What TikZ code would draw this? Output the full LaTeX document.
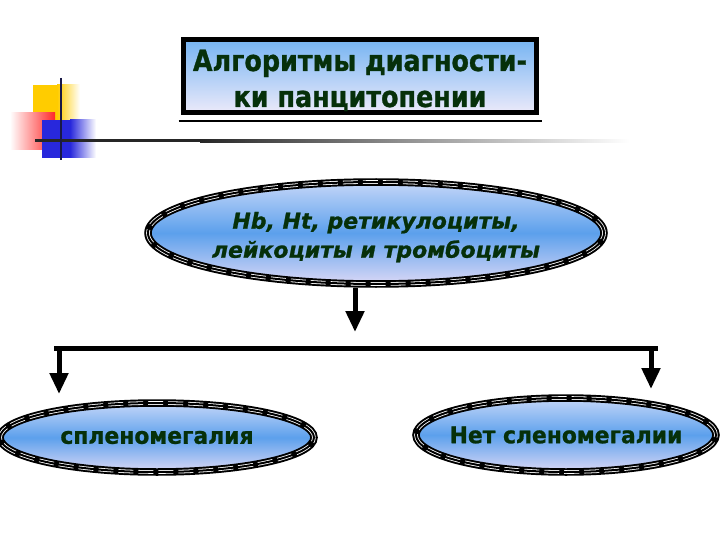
\documentclass[tikz,border=0pt]{standalone}
\usepackage{fontspec}
\setmainfont{DejaVu Sans}
\newfontfamily\slidefont[FakeStretch=0.87,FakeBold=1]{DejaVu Sans}
\newfontfamily\ovalfont[FakeStretch=0.95,FakeBold=1]{DejaVu Sans}
\newfontfamily\paramfont[FakeBold=1]{DejaVu Sans}
\usetikzlibrary{arrows.meta,shapes.geometric}
\definecolor{txtgreen}{RGB}{6,48,10}
\definecolor{ttop}{RGB}{118,180,242}
\definecolor{tbot}{RGB}{236,234,250}
\definecolor{etop}{RGB}{196,214,248}
\definecolor{emid}{RGB}{92,160,236}
\definecolor{ebot}{RGB}{218,216,246}
\definecolor{decyel}{RGB}{255,204,0}
\definecolor{decred}{RGB}{255,40,40}
\definecolor{decblue}{RGB}{40,40,220}
\definecolor{decnavy}{RGB}{25,25,70}
\tikzset{
  ovalbox/.style={ellipse, inner xsep=-80pt, inner ysep=-20pt, top color=etop, bottom color=ebot, middle color=emid,
    draw=black, line width=7.5pt, text=txtgreen, align=center},
  ringdash/.style={draw=white, line width=3.6pt, dash pattern=on 15pt off 5pt},
  ringthin/.style={draw=black, line width=2pt},
  bigarrow/.style={line width=5pt, -{Triangle[width=18pt,length=21pt]}},
  barline/.style={line width=5pt}
}
\newcommand{\ovalring}[3]{%
  \draw[ringdash] (#1.center) ellipse [x radius=#2, y radius=#3];
  \draw[ringthin] (#1.center) ellipse [x radius=#2, y radius=#3];}
\begin{document}
\begin{tikzpicture}[x=1pt,y=-1pt]
\useasboundingbox[fill=white] (0,0) rectangle (720,540);
% decoration
\fill[decyel] (33,85) rectangle (57,126);
\shade[left color=decyel, right color=white] (57,85) rectangle (80,126);
\shade[left color=white, right color=decred] (10,113) rectangle (55,150);
\fill[decblue] (42,120) rectangle (70,158);
\shade[left color=decblue, right color=white] (70,120) rectangle (96,158);
\fill[black!85] (35,139.5) rectangle (200,142.5);
\shade[left color=black!85, right color=black!40] (200,139.5) rectangle (420,142.5);
\shade[left color=black!40, right color=white] (420,139.5) rectangle (630,142.5);
\draw[decnavy, line width=2.5pt] (61,78) -- (61,160);
% title
\node[rectangle, minimum width=353pt, minimum height=73.5pt, inner sep=0pt,
  top color=ttop, bottom color=tbot, draw=black, line width=5pt,
  text=txtgreen, align=center, font=\slidefont\bfseries\fontsize{29.2}{36}\selectfont]
  (title) at (360,76.25) {\rule{0pt}{29.5pt}Алгоритмы диагности-\\ки панцитопении};
\draw[line width=1.3pt] ([xshift=-2.5pt,yshift=-5.5pt]title.south west) -- ([xshift=2.5pt,yshift=-5.5pt]title.south east);
% ellipses
\node[ovalbox, minimum width=456pt, minimum height=102pt,
  font=\paramfont\bfseries\itshape\fontsize{22}{29}\selectfont]
  (params) at (376,233) {\rule{0pt}{25pt}Hb, Ht, ретикулоциты,\\лейкоциты и тромбоциты};
\ovalring{params}{228pt}{51pt}
\node[ovalbox, minimum width=314pt, minimum height=69pt,
  font=\ovalfont\bfseries\fontsize{23}{28}\selectfont]
  (spleno) at (157,437.5) {спленомегалия};
\ovalring{spleno}{157pt}{34.5pt}
\node[ovalbox, minimum width=300pt, minimum height=74pt,
  font=\ovalfont\bfseries\fontsize{23}{28}\selectfont]
  (nospleno) at (566,435) {Нет сленомегалии};
\ovalring{nospleno}{150pt}{37pt}
% connectors
\coordinate (tip1) at (355,332);
\coordinate (barL) at (54,348);
\coordinate (barR) at (658,348);
\coordinate (startL) at (59,348);
\coordinate (startR) at (651,348);
\coordinate (tipL) at (59,394);
\coordinate (tipR) at (651,389);
\draw[bigarrow] (params.south -| tip1) -- (tip1);
\draw[barline] (barL) -- (barR);
\draw[bigarrow] (startL) -- (tipL);
\draw[bigarrow] (startR) -- (tipR);
\end{tikzpicture}
\end{document}
